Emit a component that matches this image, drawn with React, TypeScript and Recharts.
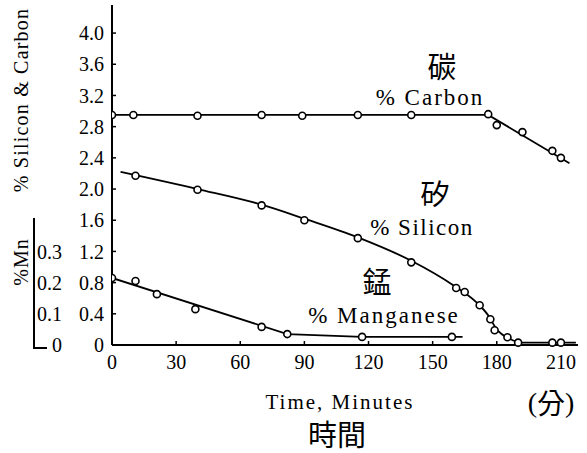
import React from 'react'
import {
  ComposedChart,
  Line,
  Scatter,
  XAxis,
  YAxis,
} from 'recharts'

// measured points (time in minutes)
const carbonTimes = [0, 10, 40, 70, 89, 115, 140, 176, 180, 192, 206, 210]
const carbonValues = [2.95, 2.95, 2.94, 2.95, 2.94, 2.95, 2.95, 2.96, 2.82, 2.73, 2.49, 2.4]
const carbonFitTimes = [0, 176, 214]
const carbonFitValues = [2.95, 2.95, 2.33]

const siliconTimes = [11, 40, 70, 90, 115, 140, 161, 165, 172, 177, 179, 185, 190, 206, 210]
const siliconValues = [2.17, 1.99, 1.79, 1.6, 1.37, 1.06, 0.73, 0.68, 0.51, 0.33, 0.19, 0.1, 0.03, 0.03, 0.03]
const siliconFitTimes = [4, 40, 70, 90, 115, 140, 160, 170, 176, 180, 186, 192, 217]
const siliconFitValues = [2.22, 2.0, 1.8, 1.62, 1.38, 1.08, 0.76, 0.56, 0.38, 0.2, 0.08, 0.03, 0.03]

const manganeseTimes = [0, 11, 21, 39, 70, 82, 117, 159]
const manganeseValues = [0.215, 0.205, 0.163, 0.115, 0.058, 0.035, 0.026, 0.026]
const manganeseFitTimes = [0, 82, 117, 164]
const manganeseFitValues = [0.215, 0.035, 0.026, 0.026]

const timeTicks = [0, 30, 60, 90, 120, 150, 180, 210]
const siTicks = [0, 0.4, 0.8, 1.2, 1.6, 2.0, 2.4, 2.8, 3.2, 3.6, 4.0]
const mnTicks = [0, 0.1, 0.2, 0.3]

const toPoints = (times: number[], values: number[]) =>
  times.map((t, i) => ({ t, v: values[i] }))

const SERIF = "'Liberation Serif', Tinos, 'Times New Roman', Times, 'Nimbus Roman', 'Noto Serif', 'DejaVu Serif', serif"
const CJK = "'Noto Sans CJK TC', 'Noto Sans CJK SC', sans-serif"

const OpenDot = (props: any) => {
  const { cx, cy } = props
  if (cx == null || cy == null) return null
  return <circle cx={cx} cy={cy} r={3.5} fill="#fff" stroke="#000" strokeWidth={1.6} />
}

const tickStyle = { fill: '#000', fontSize: 20, fontFamily: SERIF }

const serifText = (size: number, spacing = 0) => ({
  fontFamily: SERIF,
  fontSize: size,
  letterSpacing: spacing,
})

const App: React.FC = () => {
  const carbon = toPoints(carbonTimes, carbonValues)
  const carbonFit = toPoints(carbonFitTimes, carbonFitValues)
  const silicon = toPoints(siliconTimes, siliconValues)
  const siliconFit = toPoints(siliconFitTimes, siliconFitValues)
  const manganese = toPoints(manganeseTimes, manganeseValues)
  const manganeseFit = toPoints(manganeseFitTimes, manganeseFitValues)

  const fmt = (v: number) => (v === 0 ? '0' : v.toFixed(1))

  return (
    <div style={{ position: 'absolute', left: 0, top: 0, width: 587, height: 453, background: '#fff', fontFamily: SERIF }}>
      <ComposedChart
        width={587}
        height={453}
        margin={{ top: 5, right: 9, left: 32, bottom: 78 }}
        style={{ fontFamily: SERIF }}
      >
        <XAxis
          type="number"
          dataKey="t"
          domain={[0, 218]}
          ticks={timeTicks}
          allowDataOverflow
          tick={tickStyle}
          tickSize={-4}
          tickMargin={14}
          height={30}
          axisLine={{ stroke: '#000', strokeWidth: 2 }}
          tickLine={{ stroke: '#000', strokeWidth: 1.5 }}
        />
        <YAxis
          yAxisId="a"
          type="number"
          domain={[0, 4.36]}
          ticks={siTicks}
          tickFormatter={fmt}
          width={40}
          tick={tickStyle}
          tickSize={-4}
          tickMargin={12}
          axisLine={{ stroke: '#000', strokeWidth: 2 }}
          tickLine={{ stroke: '#000', strokeWidth: 1.5 }}
        />
        <YAxis
          yAxisId="b"
          type="number"
          domain={[0, 1.09]}
          ticks={mnTicks}
          tickFormatter={fmt}
          width={40}
          tick={tickStyle}
          tickSize={0}
          tickMargin={10}
          axisLine={false}
          tickLine={false}
        />

        <Line yAxisId="a" data={carbonFit} dataKey="v" type="linear" stroke="#000" strokeWidth={1.8} dot={false} isAnimationActive={false} />
        <Line yAxisId="a" data={siliconFit} dataKey="v" type="monotone" stroke="#000" strokeWidth={1.8} dot={false} isAnimationActive={false} />
        <Line yAxisId="b" data={manganeseFit} dataKey="v" type="linear" stroke="#000" strokeWidth={1.8} dot={false} isAnimationActive={false} />

        <Scatter yAxisId="a" data={carbon} dataKey="v" shape={OpenDot} isAnimationActive={false} />
        <Scatter yAxisId="a" data={silicon} dataKey="v" shape={OpenDot} isAnimationActive={false} />
        <Scatter yAxisId="b" data={manganese} dataKey="v" shape={OpenDot} isAnimationActive={false} />
      </ComposedChart>

      <svg
        width={587}
        height={453}
        style={{ position: 'absolute', left: 0, top: 0, pointerEvents: 'none' }}
      >
        {/* left axis titles */}
        <text x={21} y={100} transform="rotate(-90 21 100)" textAnchor="middle" dominantBaseline="central" style={serifText(20, 1.2)}>
          % Silicon &amp; Carbon
        </text>
        <text x={21} y={262} transform="rotate(-90 21 262)" textAnchor="middle" dominantBaseline="central" style={serifText(20, 1)}>
          %Mn
        </text>
        <line x1={34} y1={218} x2={34} y2={348} stroke="#000" strokeWidth={2} />
        <line x1={33} y1={348} x2={47} y2={348} stroke="#000" strokeWidth={2} />

        {/* series labels */}
        <text x={442} y={65} textAnchor="middle" dominantBaseline="central" style={{ fontFamily: CJK, fontSize: 29 }}>碳</text>
        <text x={430} y={97} textAnchor="middle" dominantBaseline="central" style={serifText(23, 2)}>% Carbon</text>
        <text x={435} y={192} textAnchor="middle" dominantBaseline="central" style={{ fontFamily: CJK, fontSize: 29 }}>矽</text>
        <text x={422} y={227} textAnchor="middle" dominantBaseline="central" style={serifText(23, 1.5)}>% Silicon</text>
        <text x={377} y={280} textAnchor="middle" dominantBaseline="central" style={{ fontFamily: CJK, fontSize: 29 }}>錳</text>
        <text x={384} y={315} textAnchor="middle" dominantBaseline="central" style={serifText(23, 2)}>% Manganese</text>

        {/* x axis titles */}
        <text x={340} y={402} textAnchor="middle" dominantBaseline="central" style={serifText(21, 2)}>Time, Minutes</text>
        <text x={337} y={433} textAnchor="middle" dominantBaseline="central" style={{ fontFamily: CJK, fontSize: 29 }}>時間</text>
        <text x={551} y={402} textAnchor="middle" dominantBaseline="central" style={serifText(28)}>
          (<tspan style={{ fontFamily: CJK }}>分</tspan>)
        </text>
      </svg>
    </div>
  )
}

export default App
